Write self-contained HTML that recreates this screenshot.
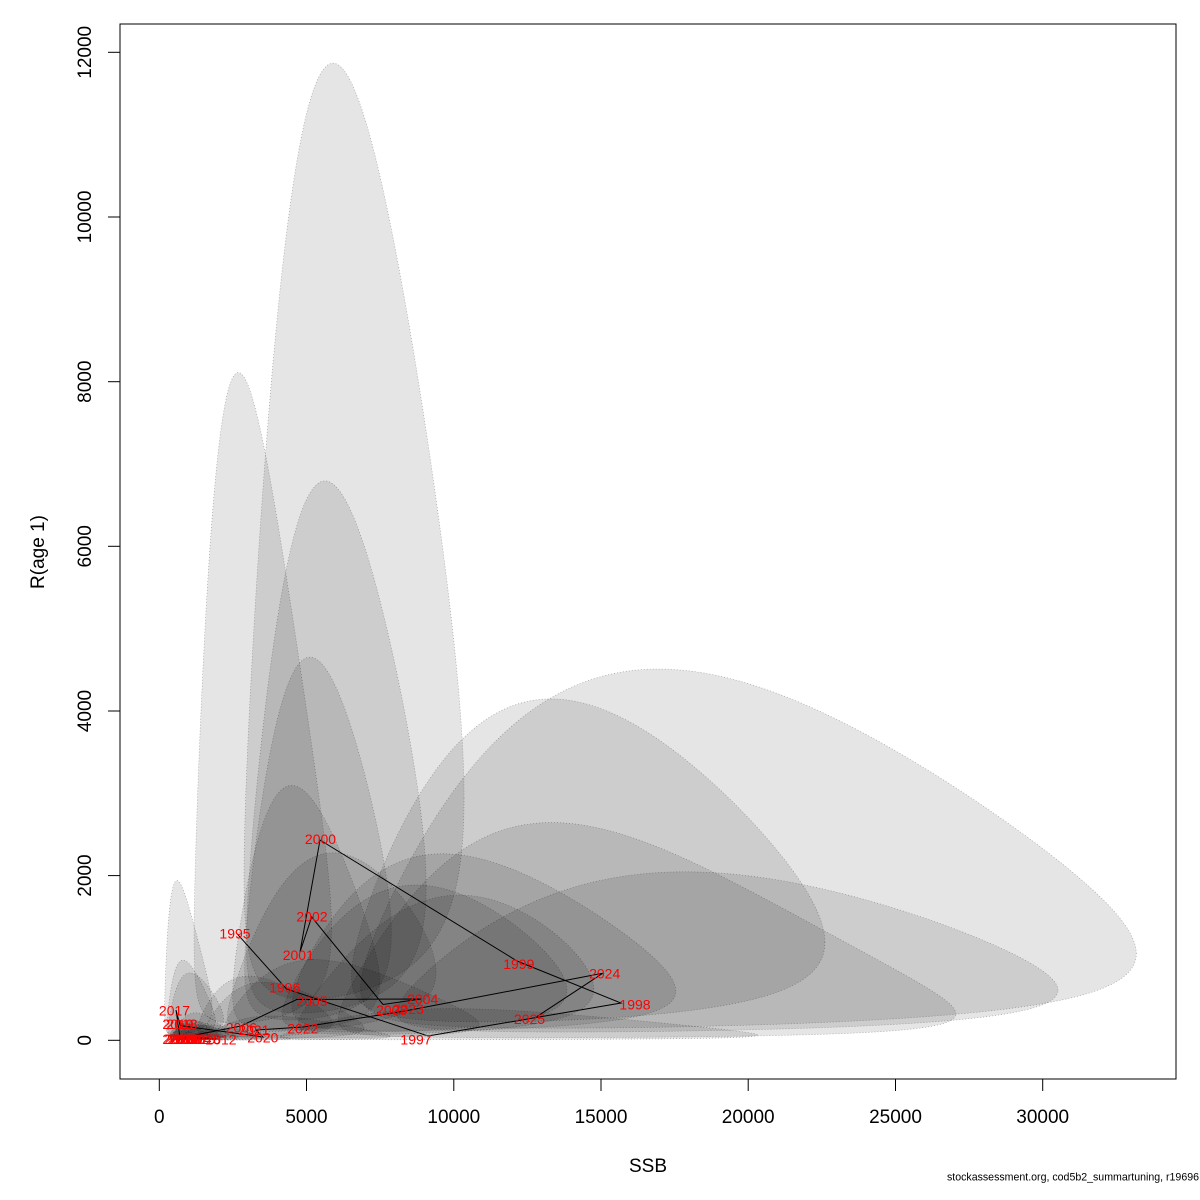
<!DOCTYPE html>
<html><head><meta charset="utf-8"><style>
html,body{margin:0;padding:0;background:#fff;}
svg{display:block;}
text{font-family:"Liberation Sans",Arial,sans-serif;}
</style></head><body>
<svg id="s" width="1200" height="1200" viewBox="0 0 1200 1200" xmlns="http://www.w3.org/2000/svg">
<rect width="1200" height="1200" fill="#fff"/>
<defs><clipPath id="cp"><rect x="120" y="24" width="1056" height="1055"/></clipPath></defs>
<g id="ell" clip-path="url(#cp)" fill="#000" fill-opacity="0.1" stroke="#000" stroke-opacity="0.33" stroke-width="0.7" stroke-dasharray="1 2"></g>
<polyline fill="none" stroke="#000" stroke-width="1" points="236.7,933.3 286.5,989 428,1036 621,1003 517,961 320,840 300,952 311.7,917 383,1004.5 421,999 296.7,999.5 241,1026 190,1036 186,1037 180,1038 178,1039 185,1038 218,1039 205,1038 195,1038 188,1037 180,1038 176,1010 180,1025 183,1026 263,1037 256,1030 303,1027 405,1011 602.7,973.3 536.7,1016.7"/>
<g fill="#f00" font-size="14" text-anchor="middle">
<text x="235" y="938.3">1995</text>
<text x="284.7" y="992.7">1996</text>
<text x="416" y="1044.3">1997</text>
<text x="635" y="1009.3">1998</text>
<text x="518.8" y="969">1999</text>
<text x="320.5" y="844">2000</text>
<text x="298.3" y="960">2001</text>
<text x="312" y="921.7">2002</text>
<text x="391.7" y="1015">2003</text>
<text x="422.7" y="1004">2004</text>
<text x="312" y="1006">2005</text>
<text x="241.3" y="1032.3">2006</text>
<text x="190" y="1044">2007</text>
<text x="186" y="1044">2008</text>
<text x="180" y="1044">2009</text>
<text x="178" y="1044">2010</text>
<text x="184" y="1044">2011</text>
<text x="221" y="1044.5">2012</text>
<text x="205" y="1044">2013</text>
<text x="196" y="1044">2014</text>
<text x="200" y="1044">2015</text>
<text x="183" y="1044">2016</text>
<text x="174.5" y="1015.7">2017</text>
<text x="182" y="1029">2018</text>
<text x="178" y="1029">2019</text>
<text x="262.8" y="1042.7">2020</text>
<text x="253.8" y="1035">2021</text>
<text x="302.8" y="1033.3">2022</text>
<text x="408.3" y="1014">2023</text>
<text x="604.7" y="978.3">2024</text>
<text x="529.5" y="1024">2025</text>
</g>
<!-- axes -->
<g stroke="#000" stroke-width="1" fill="none">
<rect x="120" y="24" width="1056" height="1055"/>
<line x1="159.3" y1="1079" x2="1042.7" y2="1079"/>
<line x1="159.3" y1="1079" x2="159.3" y2="1091"/>
<line x1="306.5" y1="1079" x2="306.5" y2="1091"/>
<line x1="453.8" y1="1079" x2="453.8" y2="1091"/>
<line x1="601" y1="1079" x2="601" y2="1091"/>
<line x1="748.2" y1="1079" x2="748.2" y2="1091"/>
<line x1="895.5" y1="1079" x2="895.5" y2="1091"/>
<line x1="1042.7" y1="1079" x2="1042.7" y2="1091"/>
<line x1="120" y1="1040.3" x2="120" y2="52.3"/>
<line x1="108" y1="1040.3" x2="120" y2="1040.3"/>
<line x1="108" y1="875.6" x2="120" y2="875.6"/>
<line x1="108" y1="711" x2="120" y2="711"/>
<line x1="108" y1="546.3" x2="120" y2="546.3"/>
<line x1="108" y1="381.7" x2="120" y2="381.7"/>
<line x1="108" y1="217" x2="120" y2="217"/>
<line x1="108" y1="52.3" x2="120" y2="52.3"/>
</g>
<g fill="#000" font-size="19" text-anchor="middle">
<text x="159.3" y="1123">0</text>
<text x="306.5" y="1123">5000</text>
<text x="453.8" y="1123">10000</text>
<text x="601" y="1123">15000</text>
<text x="748.2" y="1123">20000</text>
<text x="895.5" y="1123">25000</text>
<text x="1042.7" y="1123">30000</text>
<text x="91" y="1040.3" transform="rotate(-90 91 1040.3)">0</text>
<text x="91" y="875.6" transform="rotate(-90 91 875.6)">2000</text>
<text x="91" y="711" transform="rotate(-90 91 711)">4000</text>
<text x="91" y="546.3" transform="rotate(-90 91 546.3)">6000</text>
<text x="91" y="381.7" transform="rotate(-90 91 381.7)">8000</text>
<text x="91" y="217" transform="rotate(-90 91 217)">10000</text>
<text x="91" y="52.3" transform="rotate(-90 91 52.3)">12000</text>
<text x="648" y="1172">SSB</text>
<text x="44" y="552" transform="rotate(-90 44 552)">R(age 1)</text>
</g>
<text x="1199" y="1180.5" font-size="10.6" text-anchor="end" fill="#000">stockassessment.org, cod5b2_summartuning, r19696</text>
</svg>
<script>
(function(){
var kx=0.029447,x0=159.3,ky=0.08233,y0=1040.3;
var P=[
[2628,1300,0.80,1.831,0.026],
[4320,623,0.55,1.603,0.073],
[9124,52,0.80,2.0,0.1],
[15679,453,0.666,1.508,0.195],
[12147,963,0.621,1.460,0.146],
[5457,2430,0.64,1.586,0.122],
[4779,1070,0.50,1.47,0.137],
[5176,1498,0.56,1.512,0.149],
[7596,435,0.60,1.467,0.23],
[8887,502,0.68,1.507,0.116],
[4666,496,0.70,1.524,0.335],
[2778,174,0.75,1.5,0.12],
[1050,50,0.8,1.9,0.2],
[900,40,0.8,1.8,0.2],
[700,28,0.9,2.0,0.2],
[630,16,0.9,2.0,0.2],
[870,28,0.9,2.0,0.2],
[2000,16,0.8,2.2,0.1],
[1550,28,0.8,1.9,0.15],
[1200,28,0.8,1.9,0.15],
[970,40,0.8,1.8,0.2],
[700,28,0.9,1.9,0.2],
[567,367,1.15,1.665,0.05],
[700,186,1.0,1.655,0.14],
[802,174,1.0,1.548,0.26],
[3520,40,0.8,2.0,0.1],
[3284,125,0.75,1.73,0.1],
[4880,162,0.8,1.8,0.1],
[8344,356,0.57,1.6,0.35],
[15058,814,0.790,1.712,0.15],
[12816,287,0.747,2.221,0.052]
];
var g=document.getElementById('ell');
var NS='http://www.w3.org/2000/svg';
for(var k=0;k<P.length;k++){
 var p=P[k],u0=Math.log(p[0]),v0=Math.log(p[1]),A=p[2],B=p[3],r=p[4],q=Math.sqrt(1-r*r),d='';
 for(var i=0;i<360;i++){
  var t=i*Math.PI/180,c=Math.cos(t),s=Math.sin(t);
  var u=u0+A*c,v=v0+B*(r*c+q*s);
  var X=x0+Math.exp(u)*kx,Y=y0-Math.exp(v)*ky;
  d+=(i?'L':'M')+X.toFixed(2)+' '+Y.toFixed(2);
 }
 d+='Z';
 var e=document.createElementNS(NS,'path');
 e.setAttribute('d',d);
 g.appendChild(e);
}
})();
</script>
</body></html>
